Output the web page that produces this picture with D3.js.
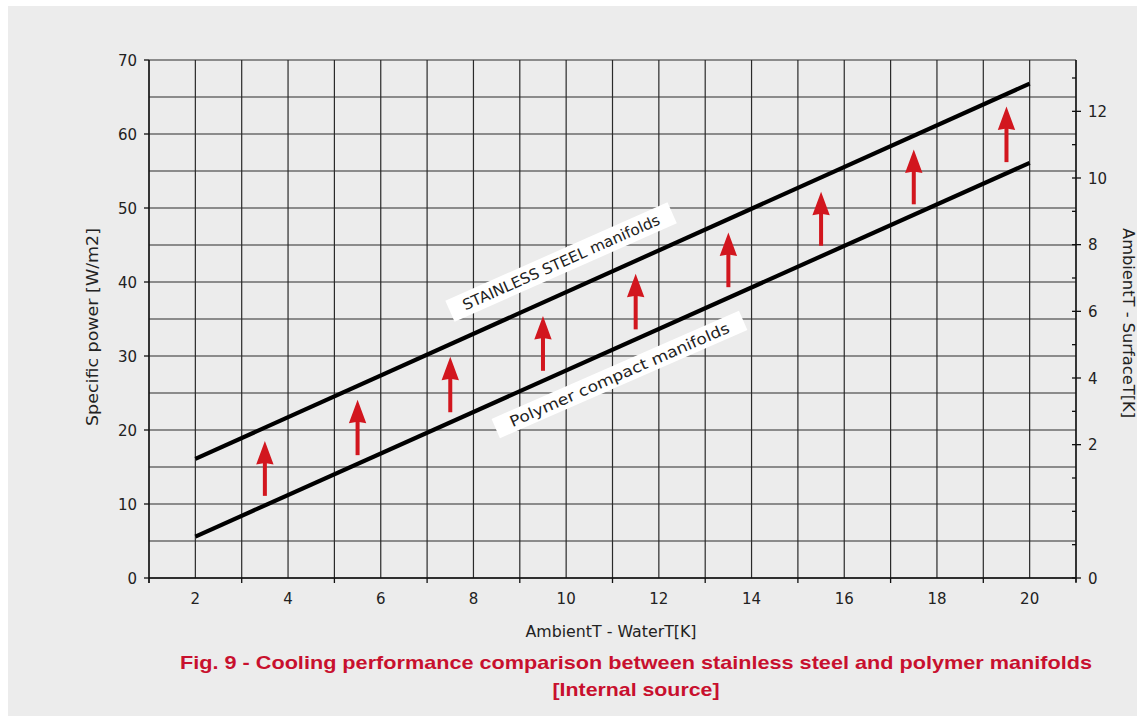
<!DOCTYPE html>
<html><head><meta charset="utf-8">
<script src="https://cdn.jsdelivr.net/npm/d3@7"></script>
<style>body{margin:0;background:#fff;} svg{display:block}</style>
</head><body><svg id="c" width="1137" height="719"></svg>
<script>
// ---- data ----
const xTickLabels = [2, 4, 6, 8, 10, 12, 14, 16, 18, 20];
const xMinorTicks = [1, 3, 5, 7, 9, 11, 13, 15, 17, 19, 21];
const yTickLabels = [0, 10, 20, 30, 40, 50, 60, 70];
const rightTickLabels = ["0", "", "", "", "2", "", "4", "", "6", "", "8", "", "10", "", "12", ""];
const lineX = [2, 20];
const steelValues = [16.1, 66.8];
const polymerValues = [5.6, 56.1];
const arrowX = [3.5, 5.5, 7.5, 9.5, 11.5, 13.5, 15.5, 17.5, 19.5];
const arrowFrom = [11.1, 16.6, 22.4, 28.0, 33.6, 39.3, 44.9, 50.5, 56.2];
const arrowTo = [18.5, 24.1, 29.9, 35.4, 41.1, 46.7, 52.2, 57.9, 63.7];
const seriesLabels = ["STAINLESS STEEL manifolds", "Polymer compact manifolds"];
const xTitle = "AmbientT - WaterT[K]";
const yTitle = "Specific power [W/m2]";
const y2Title = "AmbientT - SurfaceT[K]";
const captionLines = ["Fig. 9 - Cooling performance comparison between stainless steel and polymer manifolds", "[Internal source]"];

// ---- layout ----
const svg = d3.select("#c");
const L = 149, R = 1076, T = 60, B = 578;
const x = d3.scaleLinear().domain([1, 21]).range([L, R]);
const y = d3.scaleLinear().domain([0, 70]).range([B, T]);
const yR = d3.scaleLinear().domain([0, 15]).range([B, 78]);
const font = "'DejaVu Sans', sans-serif";

svg.append("rect").attr("x", 8).attr("y", 6).attr("width", 1129).attr("height", 710).attr("fill", "#ececec");

// grid
const grid = svg.append("g").attr("stroke", "#2a2a2a").attr("stroke-width", 1.2);
grid.selectAll("line.v").data(x.ticks(20)).join("line")
  .attr("x1", d => x(d)).attr("x2", d => x(d)).attr("y1", T).attr("y2", B);
grid.selectAll("line.h").data(y.ticks(14)).join("line")
  .attr("x1", L).attr("x2", R).attr("y1", d => y(d)).attr("y2", d => y(d));

// left axis
const ax = svg.append("g").attr("stroke", "#111").attr("stroke-width", 1.3);
ax.append("line").attr("x1", L).attr("x2", L).attr("y1", T).attr("y2", B + 5);
ax.selectAll("line.lt").data(yTickLabels).join("line")
  .attr("x1", L - 5).attr("x2", L).attr("y1", d => y(d)).attr("y2", d => y(d));
svg.append("g").selectAll("text").data(yTickLabels).join("text")
  .attr("x", 137).attr("y", d => y(d) + 5.5).attr("text-anchor", "end")
  .attr("font-family", font).attr("font-size", 15).attr("fill", "#222").text(d => d);

// bottom axis
ax.append("line").attr("x1", L).attr("x2", R).attr("y1", B).attr("y2", B);
ax.selectAll("line.bt").data(xMinorTicks).join("line")
  .attr("x1", d => x(d)).attr("x2", d => x(d)).attr("y1", B).attr("y2", B + 5);
svg.append("g").selectAll("text").data(xTickLabels).join("text")
  .attr("x", d => x(d)).attr("y", B + 26).attr("text-anchor", "middle")
  .attr("font-family", font).attr("font-size", 15).attr("fill", "#222").text(d => d);

// right axis
ax.append("line").attr("x1", R).attr("x2", R).attr("y1", T).attr("y2", B + 4);
ax.selectAll("line.rt").data(rightTickLabels).join("line")
  .attr("x1", R - 4).attr("x2", (d) => d ? R + 5 : R)
  .attr("y1", (d, i) => yR(i)).attr("y2", (d, i) => yR(i));
svg.append("g").selectAll("text").data(rightTickLabels).join("text")
  .attr("x", 1088).attr("y", (d, i) => yR(i) + 5.5)
  .attr("font-family", font).attr("font-size", 15).attr("fill", "#222").text(d => d);

// series lines
const line = d3.line().x((d, i) => x(lineX[i])).y(d => y(d));
[steelValues, polymerValues].forEach(v => {
  svg.append("path").attr("d", line(v)).attr("fill", "none")
    .attr("stroke", "#000").attr("stroke-width", 4.2);
});

// arrows
const red = "#d2161e";
arrowX.forEach((ax_, i) => {
  const px = x(ax_), yb = y(arrowFrom[i]), yt = y(arrowTo[i]);
  svg.append("rect").attr("x", px - 2).attr("y", yt + 20).attr("width", 4).attr("height", yb - yt - 20).attr("fill", red);
  svg.append("path").attr("d", `M${px},${yt} L${px + 8.7},${yt + 23.5} L${px},${yt + 22} L${px - 8.7},${yt + 23.5} Z`).attr("fill", red);
});

// labels
const labelBoxes = [
  { cx: x(9.89), cy: y(42.7), w: 243, h: 23, a: -23.9, len: 214 },
  { cx: x(11.15), cy: y(27.5), w: 270, h: 21, a: -23.6, len: 238 }
];
labelBoxes.forEach((b, i) => {
  const g = svg.append("g").attr("transform", `translate(${b.cx},${b.cy}) rotate(${b.a})`);
  g.append("rect").attr("x", -b.w / 2).attr("y", -b.h / 2).attr("width", b.w).attr("height", b.h).attr("fill", "#fff");
  g.append("text").attr("x", 0).attr("y", 5.5).attr("text-anchor", "middle")
    .attr("font-family", font).attr("font-size", 15).attr("fill", "#222")
    .attr("textLength", b.len).attr("lengthAdjust", "spacingAndGlyphs").text(seriesLabels[i]);
});

// axis titles
svg.append("text").attr("x", 611).attr("y", 637).attr("text-anchor", "middle")
  .attr("font-family", font).attr("font-size", 15).attr("fill", "#222")
  .attr("textLength", 171).attr("lengthAdjust", "spacingAndGlyphs").text(xTitle);
svg.append("text").attr("transform", "translate(98,327) rotate(-90)").attr("text-anchor", "middle")
  .attr("font-family", font).attr("font-size", 15).attr("fill", "#222")
  .attr("textLength", 198).attr("lengthAdjust", "spacingAndGlyphs").text(yTitle);
svg.append("text").attr("transform", "translate(1123,228) rotate(90)").attr("text-anchor", "start")
  .attr("font-family", font).attr("font-size", 15).attr("fill", "#222")
  .attr("textLength", 190).attr("lengthAdjust", "spacingAndGlyphs").text(y2Title);

// caption
const capW = [912, 167];
captionLines.forEach((t, i) => {
  svg.append("text").attr("x", 636).attr("y", 669 + i * 27).attr("text-anchor", "middle")
    .attr("font-family", "'Liberation Sans Narrow', 'Liberation Sans', Arial, sans-serif")
    .attr("font-weight", "bold").attr("font-size", 19).attr("fill", "#c8102e")
    .attr("textLength", capW[i]).attr("lengthAdjust", "spacingAndGlyphs").text(t);
});
</script></body></html>
